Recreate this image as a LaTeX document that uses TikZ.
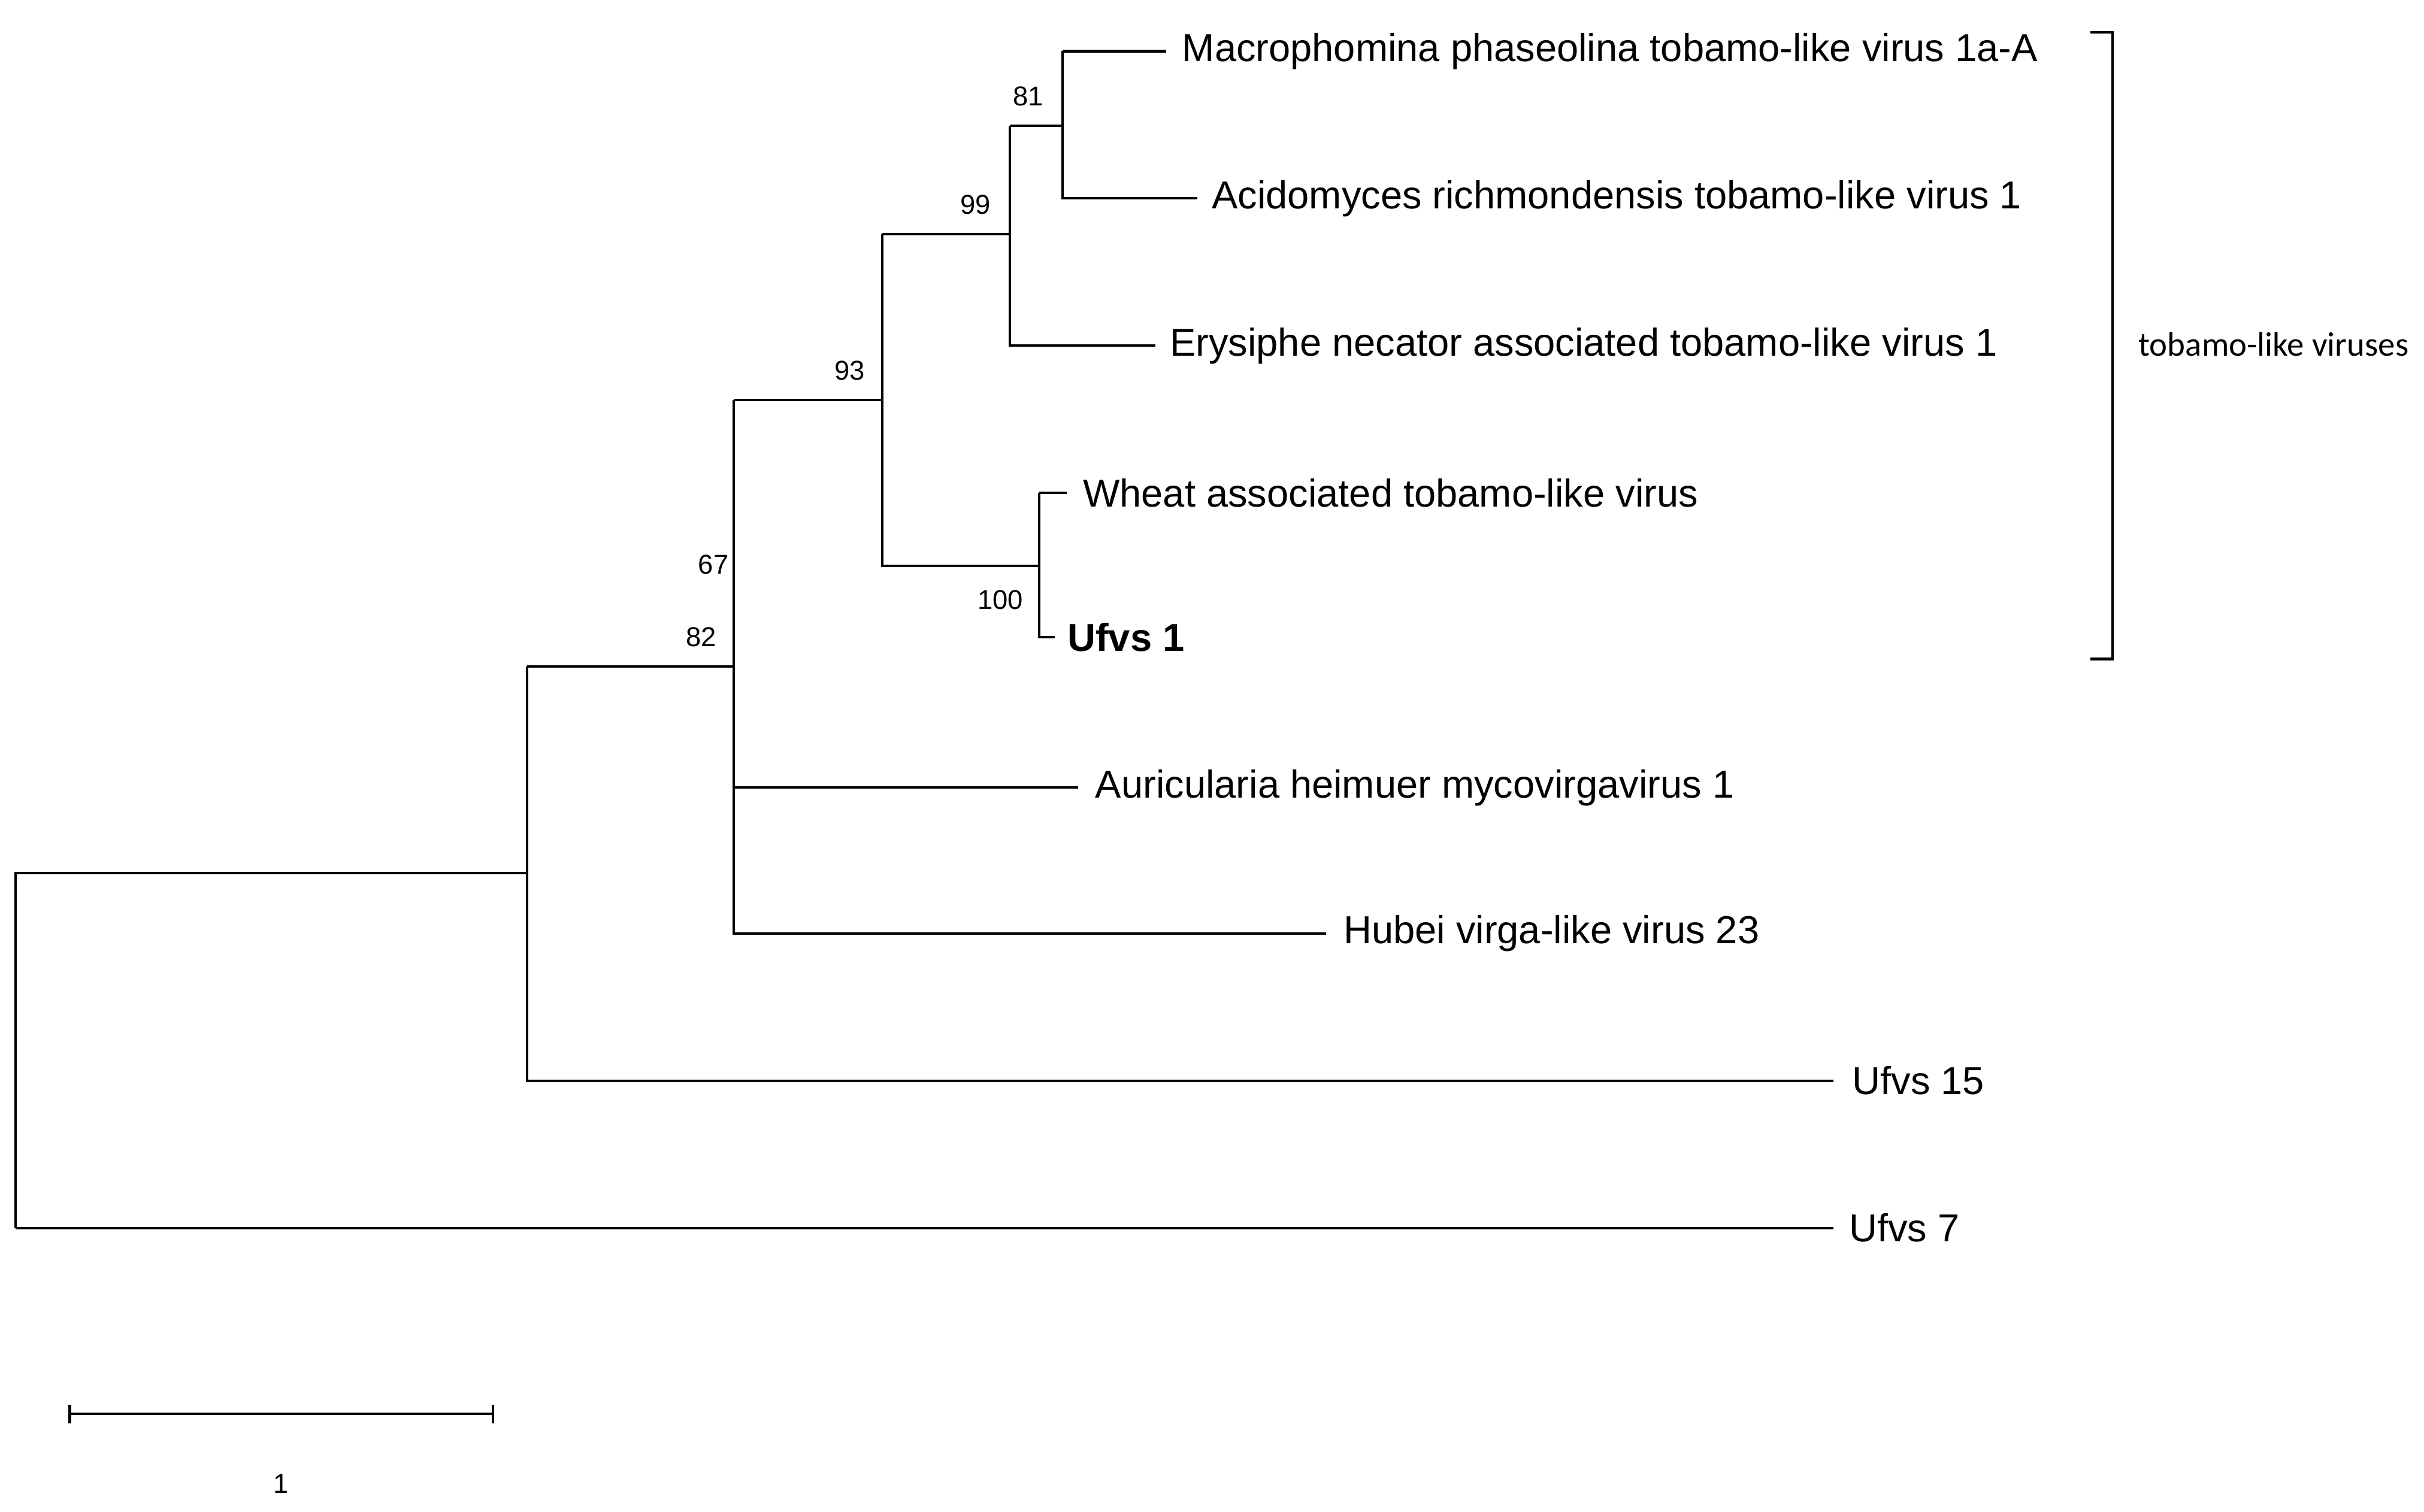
\documentclass[tikz,border=0pt]{standalone}
\usepackage{fontspec}
\setmainfont{Liberation Sans}
\newfontfamily\grpfont{Carlito}
\begin{document}
\begin{tikzpicture}[x=0.02cm,y=-0.02cm,
  br/.style={line width=0.9pt},
  leaf/.style={anchor=west,font=\fontsize{14.3}{16}\selectfont,inner sep=0pt},
  boot/.style={font=\fontsize{10}{12}\selectfont,inner sep=0pt}]
\useasboundingbox (0,0) rectangle (1563,975);
\coordinate (r) at (10,563);
\coordinate (n82) at (340,430);
\coordinate (n67) at (473,258);
\coordinate (n93) at (569,151);
\coordinate (n100) at (569,365);
\node[leaf] (l7) at (1192,792) {Ufvs 7};
\node[leaf] (l15) at (1194,697) {Ufvs 15};
\node[leaf] (lhub) at (866,602) {Hubei virga-like virus 23};
\node[leaf] (laur) at (706,508) {Auricularia heimuer mycovirgavirus 1};
\node[leaf] (lu1) at (688,411) {\bfseries Ufvs 1};
\node[leaf] (lwh) at (698,318) {Wheat associated tobamo-like virus};
\node[leaf] (ler) at (754,223) {Erysiphe necator associated tobamo-like virus 1};
\node[leaf] (lac) at (781,128) {Acidomyces richmondensis tobamo-like virus 1};
\node[leaf] (lma) at (762,33) {Macrophomina phaseolina tobamo-like virus 1a-A};
\draw[br] (10,792) -- (10,563) -- (340,563);
\draw[br] (10,792) -- (1182,792);
\draw[br] (340,430) -- (340,697) -- (1182,697);
\draw[br] (340,430) -- (473,430);
\draw[br] (473,258) -- (473,602) -- (855,602);
\draw[br] (473,508) -- (695,508);
\draw[br] (473,258) -- (569,258);
\draw[br] (569,151) -- (569,365) -- (670,365);
\draw[br] (569,151) -- (651,151);
\draw[br] (651,81) -- (651,223) -- (745,223);
\draw[br] (651,81) -- (685,81);
\draw[br] (685,33) -- (752,33);
\draw[br] (685,33) -- (685,128) -- (772,128);
\draw[br] (670,318) -- (670,411) -- (680,411);
\draw[br] (670,318) -- (688,318);
\node[boot] (b81) at (663,62) {81};
\node[boot] (b99) at (629,132) {99};
\node[boot] (b93) at (548,239) {93};
\node[boot] (b67) at (460,364) {67};
\node[boot] (b82) at (452,411) {82};
\node[boot] (b100) at (645,387) {100};
\draw[br] (1348,21) -- (1362,21) -- (1362,425) -- (1348,425);
\node[font=\grpfont\fontsize{12.5}{14}\selectfont] (grp) at (1466,222) {tobamo-like viruses};
\draw[br] (45,906) -- (45,918) (45,912) -- (318,912) (318,906) -- (318,918);
\node[boot] (sc) at (181,957) {1};
\end{tikzpicture}
\end{document}
